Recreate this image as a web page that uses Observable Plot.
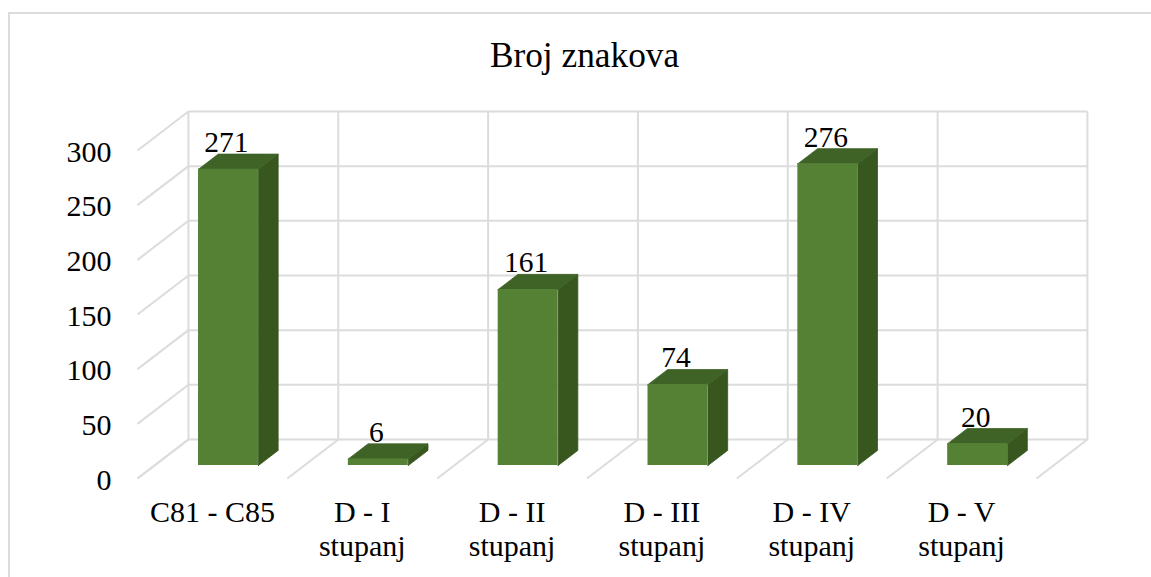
<!DOCTYPE html>
<html>
<head>
<meta charset="utf-8">
<script src="https://cdn.jsdelivr.net/npm/d3@7"></script>
<script src="https://cdn.jsdelivr.net/npm/@observablehq/plot@0.6"></script>
<style>
  html, body { margin: 0; padding: 0; background: #fff; color: #000; overflow: hidden; }
  #chart { position: absolute; left: 0; top: 0; width: 1151px; height: 577px; }
  #chart svg { background: transparent; display: block; }
  .edge { position: absolute; background: #dcdcdc; }
</style>
</head>
<body>
<div class="edge" style="left:8px;top:12px;width:1143px;height:2px"></div>
<div class="edge" style="left:8px;top:12px;width:2px;height:565px"></div>
<div id="chart"></div>
<script>
const title = "Broj znakova";
const categories = ["C81 - C85", "D - I\nstupanj", "D - II\nstupanj", "D - III\nstupanj", "D - IV\nstupanj", "D - V\nstupanj"];
const values = [271, 6, 161, 74, 276, 20];
const yTicks = [0, 50, 100, 150, 200, 250, 300];
const slots = [0, 1, 2, 3, 4, 5, 6];

// Oblique projection: depth 0 is the front of the floor, depth 1 the back wall.
const depthX = 0.34;
const depthY = 35.7;
const barDepth = [0.333, 0.72];
const barSpan = [0.294, 0.694];
const px = (x, d) => x + d * depthX;
const py = (y, d) => y + d * depthY;

const bars = values.map((v, i) => ({
  i, v,
  x1: px(i + barSpan[0], barDepth[0]),
  x2: px(i + barSpan[1], barDepth[0]),
  y1: py(0, barDepth[0]),
  y2: py(v, barDepth[0])
}));

function face(id, corners) {
  return corners.map(([x, y, d]) => ({ id, x: px(x, d), y: py(y, d) }));
}
const topFaces = values.flatMap((v, i) => face("t" + i, [
  [i + barSpan[0], v, barDepth[0]],
  [i + barSpan[1], v, barDepth[0]],
  [i + barSpan[1], v, barDepth[1]],
  [i + barSpan[0], v, barDepth[1]],
  [i + barSpan[0], v, barDepth[0]]
]));
const sideFaces = values.flatMap((v, i) => face("s" + i, [
  [i + barSpan[1], 0, barDepth[0]],
  [i + barSpan[1], v, barDepth[0]],
  [i + barSpan[1], v, barDepth[1]],
  [i + barSpan[1], 0, barDepth[1]],
  [i + barSpan[1], 0, barDepth[0]]
]));

const gridColor = "#dcdcdc";
const gridWidth = 2;

const chart = Plot.plot({
  width: 1151,
  height: 577,
  marginLeft: 111,
  marginRight: 94,
  marginTop: 55,
  marginBottom: 79,
  x: { type: "linear", domain: [0, 6], range: [137, 1036] },
  y: { type: "linear", domain: [0, 300], range: [478, 150] },
  style: { font: "30px 'Liberation Serif', serif", background: "transparent", overflow: "visible" },
  marks: [
    // back wall
    Plot.link(yTicks, { x1: px(0, 1), x2: px(6, 1), y1: d => py(d, 1), y2: d => py(d, 1), stroke: gridColor, strokeWidth: gridWidth }),
    Plot.link(slots, { x1: d => px(d, 1), x2: d => px(d, 1), y1: py(0, 1), y2: py(300, 1), stroke: gridColor, strokeWidth: gridWidth }),
    // side wall and floor
    Plot.link(yTicks, { x1: 0, x2: px(0, 1), y1: d => d, y2: d => py(d, 1), stroke: gridColor, strokeWidth: gridWidth }),
    Plot.link(slots, { x1: d => d, x2: d => px(d, 1), y1: 0, y2: py(0, 1), stroke: gridColor, strokeWidth: gridWidth }),
    // bars
    Plot.line(sideFaces, { x: "x", y: "y", z: "id", fill: "#37571f", stroke: "#37571f", strokeWidth: 0.8 }),
    Plot.line(topFaces, { x: "x", y: "y", z: "id", fill: "#3f6327", stroke: "#3f6327", strokeWidth: 0.8 }),
    Plot.rect(bars, { x1: "x1", x2: "x2", y1: "y1", y2: "y2", fill: "#558135" }),
    // data labels
    Plot.text(bars, {
      x: d => (d.x1 + d.x2) / 2,
      y: d => py(d.v, barDepth[1]),
      text: "v",
      dx: -2,
      dy: -2,
      lineAnchor: "bottom",
      fontSize: 29.5,
      fill: "#000"
    }),
    // axes
    Plot.axisY({ ticks: yTicks, anchor: "left", tickSize: 0, tickPadding: 0, label: null, fill: "#000", dy: 1.5 }),
    Plot.axisX({
      ticks: categories.map((c, i) => i + 0.5),
      tickFormat: d => categories[d - 0.5],
      anchor: "bottom",
      tickSize: 0,
      tickPadding: 0,
      label: null,
      lineHeight: 1.12,
      fill: "#000"
    }),
    // title
    Plot.text([title], { frameAnchor: "top", lineAnchor: "middle", fontSize: 35.3, fill: "#000" })
  ]
});
document.getElementById("chart").appendChild(chart);
</script>
</body>
</html>
